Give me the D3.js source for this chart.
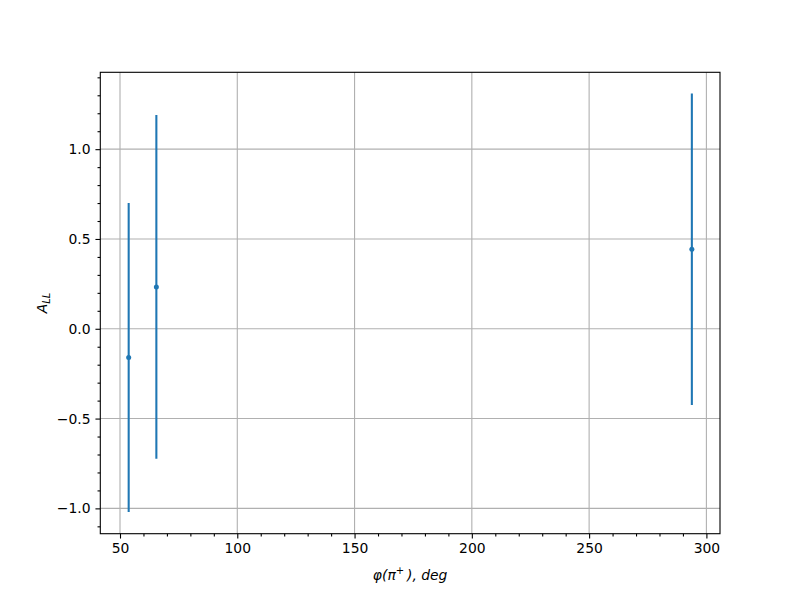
<!DOCTYPE html>
<html><head><meta charset="utf-8">
<script src="https://cdn.jsdelivr.net/npm/d3@7"></script>
<style>body{margin:0;background:#fff}svg{display:block}text{font-family:"DejaVu Sans",sans-serif}</style>
</head><body>
<script>
const xs = [53.7, 65.5, 293.8];
const ys = [-0.16, 0.233, 0.443];
const errs = [0.86, 0.957, 0.867];
const xTicks = [50, 100, 150, 200, 250, 300];
const yTicks = [-1.0, -0.5, 0.0, 0.5, 1.0];

const W = 800, H = 600;
const L = 100.3, R = 720, T = 72.3, B = 533.7;
const svg = d3.select("body").append("svg").attr("width", W).attr("height", H);
const x = d3.scaleLinear().domain([41.6, 305.8]).range([L, R]);
const y = d3.scaleLinear().domain([-1.141, 1.428]).range([B, T]);

// grid
const g = svg.append("g");
g.selectAll(".gx").data(xTicks).enter().append("line")
  .attr("x1", d => x(d)).attr("x2", d => x(d)).attr("y1", T).attr("y2", B)
  .attr("stroke", "#b0b0b0").attr("stroke-width", 1.1);
g.selectAll(".gy").data(yTicks).enter().append("line")
  .attr("y1", d => y(d)).attr("y2", d => y(d)).attr("x1", L).attr("x2", R)
  .attr("stroke", "#b0b0b0").attr("stroke-width", 1.1);

// axes
const xAxis = d3.axisBottom(x).tickValues(xTicks).tickFormat(d3.format("d")).tickSize(4.86).tickPadding(4.86);
const xMinor = d3.axisBottom(x).tickValues(d3.range(50, 301, 10).filter(v => v % 50 !== 0)).tickFormat("").tickSize(2.78);
const yAxis = d3.axisLeft(y).tickValues(yTicks).tickFormat(d3.format(".1f")).tickSize(4.86).tickPadding(4.86);
const yMinor = d3.axisLeft(y).tickValues(d3.range(-11, 15, 1).map(v => v / 10).filter(v => Math.abs(v * 10 % 5) > 1e-6)).tickFormat("").tickSize(2.78);

function style(sel) {
  sel.select(".domain").remove();
  sel.selectAll(".tick line").attr("stroke", "#000").attr("stroke-width", 1.1);
  sel.selectAll("text").attr("font-size", 13.9).attr("fill", "#000").attr("font-family", "DejaVu Sans");
}
svg.append("g").attr("transform", `translate(0,${B})`).call(xAxis).call(style);
svg.append("g").attr("transform", `translate(0,${B})`).call(xMinor).call(style);
svg.append("g").attr("transform", `translate(${L},0)`).call(yAxis).call(style);
svg.append("g").attr("transform", `translate(${L},0)`).call(yMinor).call(style);
svg.selectAll("text").filter(function(){return this.textContent.startsWith("-");}).text(function(){return "\u2212" + this.textContent.slice(1);});

// error bars
const data = xs.map((v, i) => ({x: v, y: ys[i], e: errs[i]}));
svg.selectAll(".eb").data(data).enter().append("line")
  .attr("x1", d => x(d.x)).attr("x2", d => x(d.x))
  .attr("y1", d => y(d.y - d.e)).attr("y2", d => y(d.y + d.e))
  .attr("stroke", "#1f77b4").attr("stroke-width", 2.08);
svg.selectAll(".pt").data(data).enter().append("circle")
  .attr("cx", d => x(d.x)).attr("cy", d => y(d.y)).attr("r", 2.5)
  .attr("fill", "#1f77b4");

// frame
svg.append("rect").attr("x", L).attr("y", T).attr("width", R - L).attr("height", B - T)
  .attr("fill", "none").attr("stroke", "#000").attr("stroke-width", 1.1);

// labels
const xl = svg.append("text").attr("x", (L + R) / 2).attr("y", 580).attr("text-anchor", "middle")
  .attr("font-size", 13.9).attr("font-style", "italic");
xl.append("tspan").text("\u03c6(\u03c0");
xl.append("tspan").attr("dy", -6).attr("font-size", 10).attr("font-style", "normal").text("+");
xl.append("tspan").attr("dy", 6).text("\u2009), deg");

const yl = svg.append("text").attr("transform", `translate(47,${(T + B) / 2}) rotate(-90)`)
  .attr("text-anchor", "middle").attr("font-size", 13.9).attr("font-style", "italic");
yl.append("tspan").text("A");
yl.append("tspan").attr("dy", 3).attr("font-size", 10).text("LL");
</script>
</body></html>
